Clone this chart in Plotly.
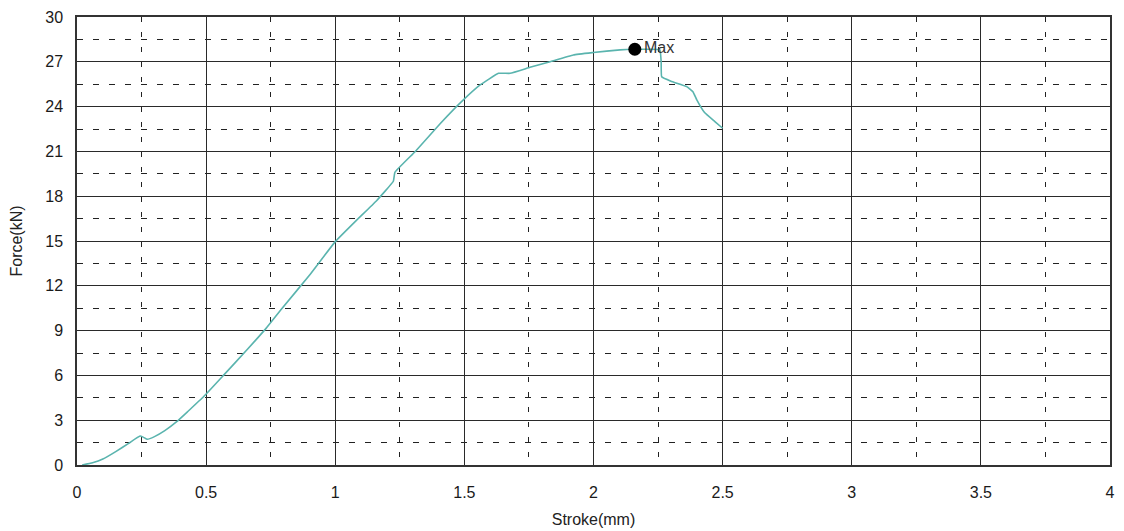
import plotly.graph_objects as go

stroke = [0.02, 0.06, 0.10, 0.15, 0.20, 0.244, 0.258, 0.272, 0.30, 0.34, 0.386, 0.43, 0.489, 0.567, 0.66, 0.732, 0.792, 0.90, 1.00, 1.083, 1.16, 1.225, 1.231, 1.309, 1.406, 1.489, 1.561, 1.632, 1.677, 1.754, 1.832, 1.922, 1.999, 2.103, 2.16, 2.22, 2.257, 2.262, 2.264, 2.30, 2.361, 2.385, 2.40, 2.43, 2.47, 2.50]
force = [0.0, 0.15, 0.4, 0.9, 1.45, 1.94, 1.85, 1.72, 1.9, 2.3, 2.9, 3.6, 4.55, 6.0, 7.75, 9.15, 10.45, 12.7, 14.96, 16.4, 17.7, 19.0, 19.6, 20.98, 22.85, 24.33, 25.45, 26.23, 26.23, 26.63, 27.01, 27.46, 27.62, 27.8, 27.84, 27.84, 27.8, 27.0, 26.0, 25.7, 25.34, 25.0, 24.45, 23.6, 23.0, 22.55]

max_x = [2.16]
max_y = [27.84]
max_label = ["Max"]

xticks = [0, 0.5, 1, 1.5, 2, 2.5, 3, 3.5, 4]
xtick_text = ["0", "0.5", "1", "1.5", "2", "2.5", "3", "3.5", "4"]
yticks = [0, 3, 6, 9, 12, 15, 18, 21, 24, 27, 30]

FONT = "Liberation Sans, Arial"

fig = go.Figure()
fig.add_trace(go.Scatter(x=stroke, y=force, mode="lines",
                         line=dict(color="#5ab4ae", width=1.6, shape="spline", smoothing=0.3),
                         hoverinfo="skip", showlegend=False))
fig.add_trace(go.Scatter(x=max_x, y=max_y, mode="markers+text", text=max_label,
                         textposition="middle right",
                         textfont=dict(family=FONT, size=16, color="#333333"),
                         marker=dict(color="black", size=13),
                         showlegend=False))

axis_common = dict(
    showline=True, linecolor="#333333", linewidth=1.5, mirror=True,
    showgrid=True, gridcolor="#2a2a2a", gridwidth=1.4,
    zeroline=False, ticks="", automargin=False,
    tickfont=dict(family=FONT, size=16, color="#1a1a1a"),
)

fig.update_xaxes(range=[0, 4], tickvals=xticks, ticktext=xtick_text,
                 ticklabelstandoff=12,
                 minor=dict(dtick=0.25, showgrid=True, gridcolor="#222222", gridwidth=1.3, griddash="5px,10px"),
                 title=dict(text="Stroke(mm)", font=dict(family=FONT, size=16, color="#222222"), standoff=14),
                 **axis_common)
fig.update_yaxes(range=[0, 30], tickvals=yticks,
                 ticklabelstandoff=9,
                 minor=dict(dtick=1.5, showgrid=True, gridcolor="#222222", gridwidth=1.3, griddash="6px,10px"),
                 title=dict(text="Force(kN)", font=dict(family=FONT, size=16, color="#222222"), standoff=20),
                 **axis_common)

fig.update_layout(width=1116, height=523, margin=dict(l=69, r=14, t=9, b=66),
                  plot_bgcolor="white", paper_bgcolor="white")

fig.write_html("out.html")
